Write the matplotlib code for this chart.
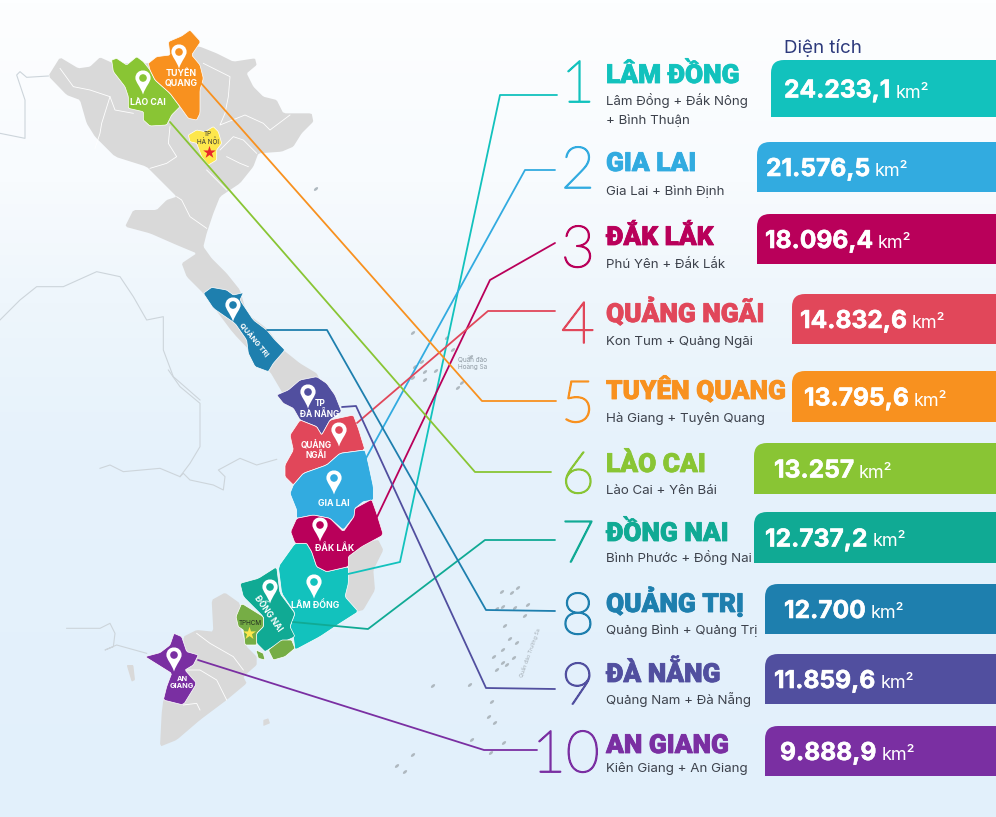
import numpy as np
import matplotlib
matplotlib.use("Agg")
import matplotlib.pyplot as plt
import matplotlib.patheffects as pe
from matplotlib.colors import LinearSegmentedColormap
from matplotlib.patches import PathPatch, Polygon, Circle, Ellipse
from matplotlib.path import Path

# === data ===
RANKS = ["1", "2", "3", "4", "5", "6", "7", "8", "9", "10"]
NAMES = ["LÂM ĐỒNG", "GIA LAI", "ĐẮK LẮK", "QUẢNG NGÃI", "TUYÊN QUANG",
         "LÀO CAI", "ĐỒNG NAI", "QUẢNG TRỊ", "ĐÀ NẴNG", "AN GIANG"]
SUBTITLES = ["Lâm Đồng + Đắk Nông\n+ Bình Thuận", "Gia Lai + Bình Định", "Phú Yên + Đắk Lắk",
             "Kon Tum + Quảng Ngãi", "Hà Giang + Tuyên Quang", "Lào Cai + Yên Bái",
             "Bình Phước + Đồng Nai", "Quảng Bình + Quảng Trị", "Quảng Nam + Đà Nẵng",
             "Kiên Giang + An Giang"]
AREAS = ["24.233,1", "21.576,5", "18.096,4", "14.832,6", "13.795,6",
         "13.257", "12.737,2", "12.700", "11.859,6", "9.888,9"]
COLORS = ["#12c2bd", "#32abe0", "#b9005a", "#e1475a", "#f8911f",
          "#89c534", "#10aa94", "#1e7fae", "#514f9f", "#7a2fa2"]

# === layout, in pixels of the 996x817 picture ===
BAR_LEFT = [771, 757, 757, 792, 792, 754, 754, 765, 765, 765]
BAR_TOP = [60, 142, 214, 294, 371, 443, 512, 584, 654, 726]
BAR_BOTTOM = [117, 192, 264, 344, 422, 494, 563, 634, 704, 776]
VALUE_X = [784, 766, 765, 800, 804, 774, 765, 784, 774, 780]
TITLE_BASE = [83, 171, 245, 322, 399, 472, 541, 612, 682, 753]
SUB_BASE = [105, 195, 268, 345, 422, 494, 562, 634, 704, 772]
RANK_BASE = [102, 188, 267, 343, 422, 493, 562, 634, 704, 772]
LEADERS = [
    [(348, 574), (400, 562), (500, 95), (557, 95)],
    [(365, 460), (525, 170), (555, 170)],
    [(377, 517), (490, 280), (555, 243)],
    [(357, 423), (488, 311), (555, 311)],
    [(200, 82), (482, 401), (556, 401)],
    [(170, 122), (475, 472), (551, 472)],
    [(293, 622), (368, 629), (485, 540), (555, 540)],
    [(267, 330), (327, 330), (486, 610), (555, 611)],
    [(342, 407), (356, 406), (486, 688), (555, 689)],
    [(198, 660), (484, 750), (537, 750)],
]

W, H = 996, 817
GREY = "#d9d9d9"
FONT = "Inter"


def z1(pts):
    # coordinates read on the first crop (3x, origin 0,0)
    return [(x / 3, y / 3) for x, y in pts]


def z2(pts):
    # coordinates read on the second crop (3x, origin 100,370)
    return [(x / 3 + 100, y / 3 + 370) for x, y in pts]


def smooth(pts, cut=0.08):
    # light corner cutting so the outlines do not look faceted
    p = np.array(pts, dtype=float)
    n = np.roll(p, -1, axis=0)
    out = np.empty((len(p) * 2, 2))
    out[0::2] = (1 - cut) * p + cut * n
    out[1::2] = cut * p + (1 - cut) * n
    return out


GREY_SHAPES = [
    z1([(145, 228), (180, 172), (235, 205), (270, 200), (300, 172), (340, 190), (450, 190), (570, 140),
        (600, 140), (650, 160), (700, 185), (765, 175), (770, 195), (740, 220), (760, 260), (790, 290),
        (830, 300), (850, 340), (935, 340), (940, 365), (905, 400), (880, 440), (845, 455), (775, 460),
        (760, 500), (720, 550), (660, 590), (640, 640), (620, 700), (610, 740), (635, 775), (680, 820),
        (720, 870), (740, 940), (800, 985), (850, 1050), (900, 1090), (950, 1120), (960, 1140), (930, 1200),
        (860, 1200), (810, 1115), (700, 1000), (610, 880), (560, 830), (545, 790), (590, 760), (530, 735),
        (450, 700), (375, 680), (400, 630), (470, 630), (500, 600), (530, 590), (480, 540), (440, 500),
        (345, 470), (285, 410), (260, 370), (240, 300), (200, 285)]),
    z2([(745, 560), (800, 515), (835, 510), (850, 540), (820, 600), (825, 660), (790, 720), (770, 725),
        (735, 680), (745, 640)]),
    z2([(335, 690), (375, 668), (420, 700), (420, 770), (440, 830), (470, 860), (470, 885), (430, 920),
        (440, 940), (380, 990), (300, 1050), (230, 1110), (180, 1130), (185, 1030), (190, 990), (255, 900),
        (250, 800), (290, 780), (340, 785)]),
    z2([(80, 885), (100, 885), (105, 930), (95, 935)]),
    z2([(490, 1050), (505, 1045), (510, 1060), (490, 1068)]),
]
PROVINCES = [
    ("#89c534", z1([(335, 180), (350, 175), (380, 195), (410, 170), (430, 185), (450, 210), (465, 240), (510, 280),
                    (540, 320), (515, 345), (500, 375), (450, 378), (430, 360), (430, 335), (385, 325), (385, 290),
                    (375, 260), (340, 215)])),
    ("#f8911f", z1([(445, 190), (470, 170), (510, 165), (505, 125), (545, 108), (570, 90), (602, 125), (575, 165),
                    (600, 195), (610, 235), (600, 270), (600, 340), (590, 360), (565, 355), (540, 320), (510, 280),
                    (465, 240), (450, 210)])),
    ("#fde74c", z1([(565, 405), (590, 390), (615, 395), (640, 380), (655, 395), (665, 430), (650, 450), (650, 480),
                    (625, 495), (605, 470), (590, 430), (570, 425)])),
    ("#1e7fae", z1([(610, 880), (635, 862), (680, 870), (700, 885), (730, 878), (720, 900), (760, 960), (800, 990),
                    (825, 1020), (855, 1050), (820, 1090), (805, 1115), (765, 1100), (745, 1060), (740, 1020),
                    (705, 970), (640, 925)])),
    ("#514f9f", z2([(530, 75), (565, 60), (600, 30), (650, 20), (680, 40), (705, 75), (725, 125), (690, 150),
                    (665, 195), (650, 170), (600, 150), (580, 115), (550, 100)])),
    ("#e1475a", z2([(600, 150), (650, 170), (665, 195), (690, 150), (760, 135), (775, 175), (795, 240), (720, 250),
                    (680, 285), (610, 310), (580, 345), (555, 320), (555, 285), (580, 240), (570, 195)])),
    ("#32abe0", z2([(580, 345), (610, 310), (680, 285), (720, 250), (795, 240), (805, 280), (820, 350), (820, 390),
                    (790, 395), (765, 415), (762, 440), (730, 480), (690, 445), (640, 435), (590, 445), (590, 420),
                    (570, 370)])),
    ("#12c2bd", z2([(585, 520), (620, 520), (635, 545), (650, 590), (680, 605), (745, 590), (745, 640), (735, 680),
                    (775, 725), (720, 760), (660, 800), (585, 840), (580, 800), (570, 770), (585, 730), (545, 670),
                    (535, 590)])),
    ("#b9005a", z2([(590, 445), (640, 435), (690, 445), (730, 485), (762, 440), (765, 415), (815, 388), (830, 430),
                    (850, 495), (785, 530), (745, 560), (745, 590), (680, 605), (650, 590), (635, 545), (620, 520),
                    (585, 520), (572, 485)])),
    ("#10aa94", z2([(420, 640), (475, 625), (530, 590), (540, 670), (585, 730), (570, 770), (585, 800), (520, 830),
                    (495, 845), (470, 820), (470, 790), (490, 770), (490, 740), (430, 680)])),
    ("#76ad45", z2([(408, 740), (425, 700), (490, 740), (490, 770), (470, 790), (470, 825), (435, 825), (430, 780),
                    (415, 770)])),
    ("#76ad45", z2([(505, 840), (545, 810), (575, 810), (585, 835), (555, 860), (520, 870)])),
    ("#76ad45", z2([(468, 840), (490, 850), (495, 870), (475, 865)])),
    ("#7a2fa2", z2([(135, 860), (180, 848), (210, 825), (222, 790), (245, 800), (260, 845), (295, 855), (280, 885),
                    (255, 900), (290, 940), (250, 1005), (190, 990), (200, 950), (215, 910), (175, 885)])),
]
INNER_BORDERS = [
    z1([(180, 205), (220, 260), (270, 270), (330, 290), (345, 330), (400, 340)]),
    z1([(330, 290), (305, 370), (300, 400), (285, 445)]),
    z1([(510, 380), (505, 430), (530, 470), (500, 490), (450, 505)]),
    z1([(620, 510), (680, 570)]),
    z1([(610, 190), (690, 230), (685, 290), (675, 340), (660, 375), (735, 345), (790, 370), (810, 390), (870, 345)]),
    z1([(660, 450), (700, 410), (730, 420), (770, 460)]),
    z1([(680, 470), (720, 490), (745, 500)]),
    z1([(530, 590), (545, 600), (570, 650), (620, 685)]),
    z2([(290, 790), (330, 820), (400, 860), (430, 900)]),
    z2([(255, 900), (300, 900), (350, 930), (380, 990)]),
    z2([(250, 1005), (290, 1000), (300, 1020)]),
]
NEIGHBOUR_LINES = [
    z1([(0, 960), (60, 900), (110, 860), (190, 860), (290, 815), (360, 830), (400, 890), (440, 960), (490, 950),
        (490, 1050), (520, 1130), (600, 1200)]),
    z2([(205, 0), (240, 50), (300, 100), (300, 230), (270, 280), (240, 320), (180, 295), (70, 305), (30, 285), (0, 295)]),
    z2([(240, 320), (250, 310), (270, 330), (340, 345), (370, 360), (375, 320), (355, 300), (420, 265), (470, 285), (530, 268)]),
    z2([(-100, 775), (0, 775), (30, 760), (45, 790), (40, 830), (15, 840), (50, 825), (140, 850)]),
    z1([(145, 228), (80, 232), (60, 215), (50, 225), (75, 300), (75, 415), (0, 400)]),
]
ISLANDS = [(413, 333), (447, 338), (453, 350), (422, 362), (415, 367), (425, 372), (413, 378), (425, 380),
           (436, 371), (471, 357), (458, 388), (462, 383), (316, 189),
           (502, 592), (512, 593), (518, 588), (497, 609), (503, 607), (515, 608), (528, 605), (525, 616),
           (505, 626), (510, 639), (517, 643), (503, 650), (494, 657), (514, 658), (503, 663), (507, 665),
           (497, 670), (433, 686), (470, 685), (492, 702), (489, 717), (495, 723), (472, 740), (504, 743),
           (491, 753), (413, 755), (397, 766), (405, 772)]
PINS = [(179, 52, "#f8911f"), (143, 78, "#89c534"), (233, 305, "#1e7fae"), (308, 392, "#514f9f"),
        (339, 430, "#e1475a"), (334, 478, "#32abe0"), (320, 525, "#b9005a"), (314, 582, "#12c2bd"),
        (270, 587, "#10aa94"), (174, 655, "#7a2fa2")]
# label text, x, y, rotation, colour, size
MAP_LABELS = [
    ("TUYÊN\nQUANG", 181, 78.5, 0, "white", 6.3),
    ("LÀO CAI", 148, 102, 0, "white", 6.3),
    ("TP\nHÀ NỘI", 208, 138, 0, "#333333", 4.6),
    ("QUẢNG TRỊ", 254, 339, -50, "white", 5.3),
    ("TP\nĐÀ NẴNG", 320, 409, 0, "white", 6),
    ("QUẢNG\nNGÃI", 316, 450.5, 0, "white", 6),
    ("GIA LAI", 334, 503, 0, "white", 6.3),
    ("ĐẮK LẮK", 335, 548, 0, "white", 6.3),
    ("LÂM ĐỒNG", 315, 605, 0, "white", 6.3),
    ("ĐỒNG NAI", 268, 613, -55, "white", 6),
    ("TPHCM", 250, 623, 0, "#1f2a1f", 4.6),
    ("AN\nGIANG", 182, 682.5, 0, "white", 5.3),
    ("Quần đảo\nHoàng Sa", 473, 363, 0, "#8f9aa3", 4.6),
    ("Quần đảo Trường Sa", 530, 653, 70, "#a5aeb5", 3.8),
]


def draw_background(ax):
    stops = [(0.0, "#fdfeff"), (0.22, "#f8fbfe"), (0.37, "#eef6fc"), (0.55, "#e6f2fb"), (1.0, "#e2f0fb")]
    cmap = LinearSegmentedColormap.from_list("bg", stops)
    grad = np.linspace(0, 1, 256).reshape(-1, 1)
    ax.imshow(grad, cmap=cmap, extent=(0, W, H, 0), aspect="auto", zorder=0)


def bar_path(left, top, bottom, right=W + 5, r=13):
    verts = [(left, bottom), (left, top + r), (left, top), (left + r, top), (right, top), (right, bottom), (left, bottom)]
    codes = [Path.MOVETO, Path.LINETO, Path.CURVE3, Path.CURVE3, Path.LINETO, Path.LINETO, Path.CLOSEPOLY]
    return Path(verts, codes)


def draw_pin(ax, x, y, color, r=7.6, tip=16.5):
    # head circle centred on x,y, tapering to a tip below (y grows downward)
    k = 1.33 * r
    verts = [(x, y + tip),
             (x - r * 0.35, y + r * 1.1), (x - r, y + r * 0.55), (x - r, y),
             (x - r, y - k), (x + r, y - k), (x + r, y),
             (x + r, y + r * 0.55), (x + r * 0.35, y + r * 1.1), (x, y + tip)]
    codes = [Path.MOVETO] + [Path.CURVE4] * 9
    ax.add_patch(PathPatch(Path(verts, codes), fc="white", ec="none", zorder=6))
    ax.add_patch(Circle((x, y), 3.8, fc=color, ec="none", zorder=7))


def draw_map(ax):
    for pts in NEIGHBOUR_LINES:
        xs, ys = zip(*pts)
        ax.plot(xs, ys, color="#cdd5db", lw=0.8, zorder=1)
    for pts in GREY_SHAPES:
        ax.add_patch(Polygon(smooth(pts), closed=True, fc=GREY, ec="none", zorder=2))
    for pts in INNER_BORDERS:
        xs, ys = zip(*pts)
        ax.plot(xs, ys, color="white", lw=0.6, zorder=2.5)
    for x, y in ISLANDS:
        ax.add_patch(Ellipse((x, y), 5, 2.6, angle=-40, fc="#aeb8bf", ec="none", zorder=2))
    for color, pts in PROVINCES:
        ax.add_patch(Polygon(smooth(pts), closed=True, fc=color, ec="white", lw=0.5, joinstyle="round", zorder=3))
    ax.scatter([209], [152], marker="*", s=90, color="#e8262a", linewidths=0, zorder=5)
    ax.scatter([249], [633], marker="*", s=95, color="#fde74c", linewidths=0, zorder=5)
    for x, y, color in PINS:
        draw_pin(ax, x, y, color)
    for text, x, y, rot, color, size in MAP_LABELS:
        weight = "normal" if color != "white" else "bold"
        ax.text(x, y, text, ha="center", va="center", rotation=rot, rotation_mode="anchor", color=color,
                fontsize=size, fontweight=weight, family=FONT, linespacing=1.05, zorder=8)


def draw_rows(ax):
    for i, name in enumerate(NAMES):
        color = COLORS[i]
        xs, ys = zip(*LEADERS[i])
        ax.plot(xs, ys, color=color, lw=1.3, solid_capstyle="round", solid_joinstyle="round", zorder=4)
        # the installed light cut is hairline, a thin stroke brings it to the weight of the original
        rank_x = 532 if RANKS[i] == "10" else 561
        ax.text(rank_x, RANK_BASE[i], RANKS[i], color=color, fontsize=42, fontweight="light", family="Lato",
                va="baseline", ha="left", zorder=9,
                path_effects=[pe.withStroke(linewidth=1.1, foreground=color)])
        ax.text(606, TITLE_BASE[i], name, color=color, fontsize=18.9, fontweight=900, family="Roboto",
                va="baseline", ha="left", zorder=9,
                path_effects=[pe.withStroke(linewidth=0.6, foreground=color)])
        lines = SUBTITLES[i].split("\n")
        for j, line in enumerate(lines):
            ax.text(606, SUB_BASE[i] + 19 * j, line, color="#3d424c", fontsize=9.6, family=FONT,
                    va="baseline", ha="left", zorder=9)
        ax.add_patch(PathPatch(bar_path(BAR_LEFT[i], BAR_TOP[i], BAR_BOTTOM[i]), fc=color, ec="none", zorder=5))
        base = (BAR_TOP[i] + BAR_BOTTOM[i]) / 2 + 9
        val = ax.text(VALUE_X[i], base, AREAS[i], color="white", fontsize=17.7, fontweight="bold", family=FONT,
                      va="baseline", ha="left", zorder=9,
                      path_effects=[pe.withStroke(linewidth=0.4, foreground="white")])
        box = val.get_window_extent(ax.figure.canvas.get_renderer()).transformed(ax.transData.inverted())
        ax.text(box.x1 + 5, base, "km²", color="white", fontsize=13, family=FONT, va="baseline", ha="left", zorder=9)


def main():
    fig = plt.figure(figsize=(W / 100, H / 100), dpi=100)
    ax = fig.add_axes([0, 0, 1, 1])
    draw_background(ax)
    ax.set_xlim(0, W)
    ax.set_ylim(H, 0)
    draw_map(ax)
    draw_rows(ax)
    ax.text(784, 53, "Diện tích", color="#2d3a7c", fontsize=13.5, family=FONT, va="baseline", ha="left")
    ax.axis("off")
    fig.savefig("out.png", dpi=100)
    plt.close(fig)


if __name__ == "__main__":
    main()
